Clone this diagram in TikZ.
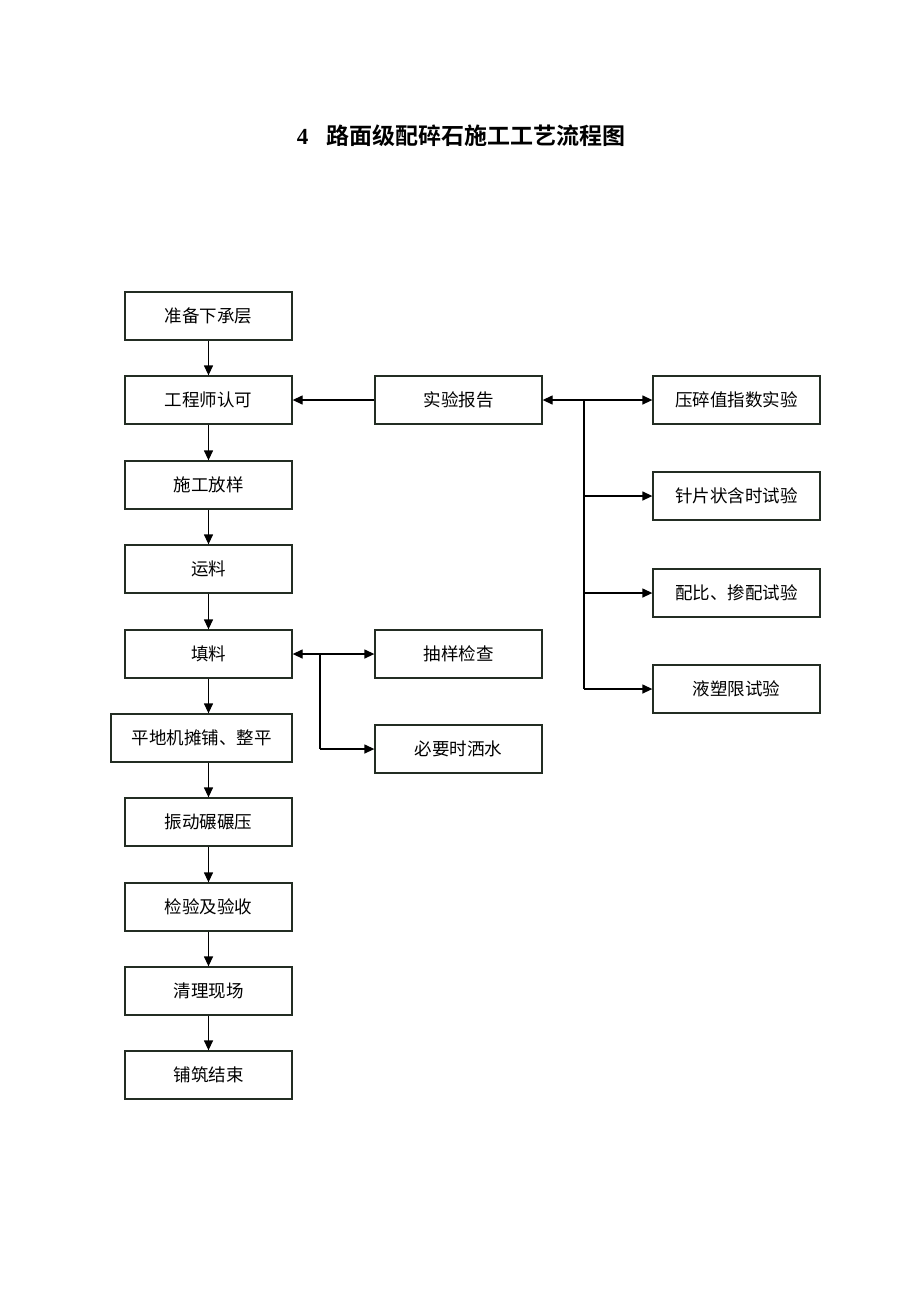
\documentclass[tikz,border=0pt]{standalone}
\usepackage{fontspec}
\setmainfont{Liberation Serif}
\newfontfamily\cjk{Noto Sans CJK SC}
\newfontfamily\cjkb{Noto Sans CJK SC Bold}
\usetikzlibrary{arrows.meta}
\definecolor{bordercol}{RGB}{35,45,35}
\tikzset{
  box/.style={draw=bordercol, line width=1.3pt, minimum width=167pt, minimum height=48pt, inner sep=0pt, font=\cjk\fontsize{17.5}{20}\selectfont, anchor=center},
  conn/.style={draw=black, line width=1.3pt, -{Triangle[length=10pt,width=9pt]}},
  dconn/.style={draw=black, line width=1.3pt, {Triangle[length=10pt,width=9pt]}-{Triangle[length=10pt,width=9pt]}},
  plain/.style={draw=black, line width=1.3pt}
}
\begin{document}
\begin{tikzpicture}[x=1pt,y=-1pt]
\useasboundingbox (0,0) rectangle (920,1302);
\fill[white] (0,0) rectangle (920,1302);
\node (title) at (461,136) {\fontsize{23}{26}\selectfont\textbf{4}\hspace{18pt}\cjkb 路面级配碎石施工工艺流程图};
% left column
\node[box] (a1) at (208.5,316) {准备下承层};
\node[box] (a2) at (208.5,400) {工程师认可};
\node[box] (a3) at (208.5,485) {施工放样};
\node[box] (a4) at (208.5,569) {运料};
\node[box] (a5) at (208.5,654) {填料};
\node[box, minimum width=181pt] (a6) at (201.5,738) {平地机摊铺、整平};
\node[box] (a7) at (208.5,822) {振动碾碾压};
\node[box] (a8) at (208.5,907) {检验及验收};
\node[box] (a9) at (208.5,991) {清理现场};
\node[box] (a10) at (208.5,1075) {铺筑结束};
% middle
\node[box] (m1) at (458.5,400) {实验报告};
\node[box] (m2) at (458.5,654) {抽样检查};
\node[box] (m3) at (458.5,749) {必要时洒水};
% right
\node[box] (r1) at (736.5,400) {压碎值指数实验};
\node[box] (r2) at (736.5,496) {针片状含时试验};
\node[box] (r3) at (736.5,593) {配比、掺配试验};
\node[box] (r4) at (736.5,689) {液塑限试验};
% vertical chain
\draw[conn] (a1) -- (a2);
\draw[conn] (a2) -- (a3);
\draw[conn] (a3) -- (a4);
\draw[conn] (a4) -- (a5);
\draw[conn] (a5.south) -- (a5.south |- a6.north);
\draw[conn] (a5.south |- a6.south) -- (a7.north);
\draw[conn] (a7) -- (a8);
\draw[conn] (a8) -- (a9);
\draw[conn] (a9) -- (a10);
% report to engineer
\draw[conn] (m1.west) -- (a2.east);
% report to tests
\coordinate (t1) at (584,400);
\coordinate (t4) at (584,689);
\draw[dconn] (m1.east) -- (r1.west);
\draw[plain] (t1) -- (t4);
\draw[conn] (t1 |- r2) -- (r2.west);
\draw[conn] (t1 |- r3) -- (r3.west);
\draw[conn] (t4) -- (r4.west);
% fill to checks
\coordinate (f1) at (320,654);
\coordinate (f2) at (320,749);
\draw[dconn] (a5.east) -- (m2.west);
\draw[plain] (f1) -- (f2);
\draw[conn] (f2) -- (m3.west);
\end{tikzpicture}
\end{document}
